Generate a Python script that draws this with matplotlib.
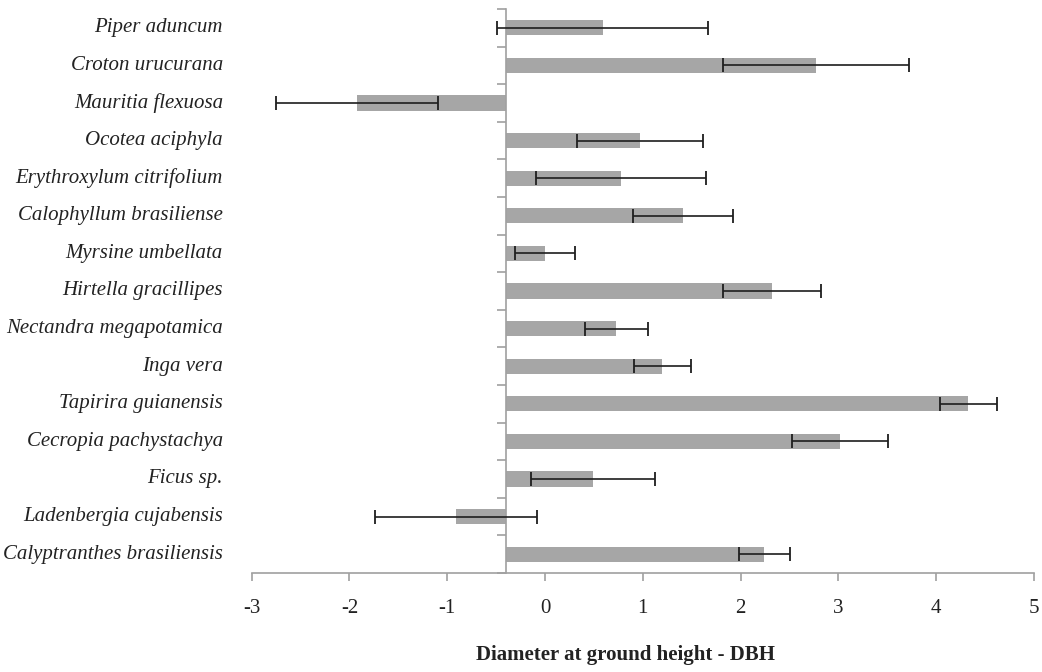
import matplotlib
matplotlib.use("Agg")
import matplotlib.pyplot as plt
import matplotlib.transforms as mtransforms
import numpy as np

species = ["Piper aduncum", "Croton urucurana", "Mauritia flexuosa", "Ocotea aciphyla",
           "Erythroxylum citrifolium", "Calophyllum brasiliense", "Myrsine umbellata",
           "Hirtella gracillipes", "Nectandra megapotamica", "Inga vera",
           "Tapirira guianensis", "Cecropia pachystachya", "Ficus sp.",
           "Ladenbergia cujabensis", "Calyptranthes brasiliensis"]
values = [0.59, 2.77, -1.92, 0.97, 0.78, 1.41, 0.00, 2.32, 0.73, 1.20, 4.33, 3.02, 0.49, -0.91, 2.24]
errors = [1.08, 0.95, 0.83, 0.64, 0.87, 0.51, 0.31, 0.50, 0.32, 0.29, 0.29, 0.49, 0.63, 0.83, 0.26]
x_ticks = [-3, -2, -1, 0, 1, 2, 3, 4, 5]
base = -0.4
xlabel = "Diameter at ground height - DBH"

SERIF = ["Liberation Serif", "DejaVu Serif"]
W, H = 1042, 672
fig = plt.figure(figsize=(W / 100, H / 100), dpi=100)
left_px, right_px, top_px, bot_px = 251.7, 1034, 9, 573
ax = fig.add_axes([left_px / W, (H - bot_px) / H, (right_px - left_px) / W, (bot_px - top_px) / H])

y = np.arange(len(species))
vals = np.array(values)
ax.barh(y, vals - base, left=base, height=0.4, color="#a6a6a6", zorder=2)
ax.errorbar(vals, y, xerr=errors, fmt="none", ecolor="#1e1e1e", elinewidth=1.2,
            capsize=4.8, capthick=1.3, zorder=3)

ax.set_xlim(-3, 5)
ax.set_ylim(len(species) - 0.5, -0.5)

axis_col = "#a0a0a0"
for s in ["top", "right"]:
    ax.spines[s].set_visible(False)
ax.spines["bottom"].set_color(axis_col)
ax.spines["bottom"].set_linewidth(1.2)
ax.spines["left"].set_position(("data", base))
ax.spines["left"].set_color(axis_col)
ax.spines["left"].set_linewidth(1.2)

ax.set_xticks(x_ticks)
ax.set_xticklabels([str(t) for t in x_ticks], fontfamily=SERIF, fontsize=15, color="#222222")
ax.tick_params(axis="x", direction="out", length=6, width=1.2, color=axis_col, pad=13)

ax.set_yticks(np.arange(len(species) + 1) - 0.5)
ax.set_yticklabels([])
ax.tick_params(axis="y", direction="out", length=6.5, width=1.2, color=axis_col)

trans = mtransforms.blended_transform_factory(ax.transAxes, ax.transData)
for yi, name in zip(y, species):
    ax.text(-0.0367, yi, name, transform=trans, ha="right", va="center",
            fontfamily=SERIF, fontstyle="italic", fontsize=15, color="#222222")

fig.text(626 / W, 1 - 655 / H, xlabel, ha="center", va="center", fontfamily=SERIF,
         fontweight="bold", fontsize=15, color="#222222")

fig.savefig("out.png", dpi=100, facecolor="white")
